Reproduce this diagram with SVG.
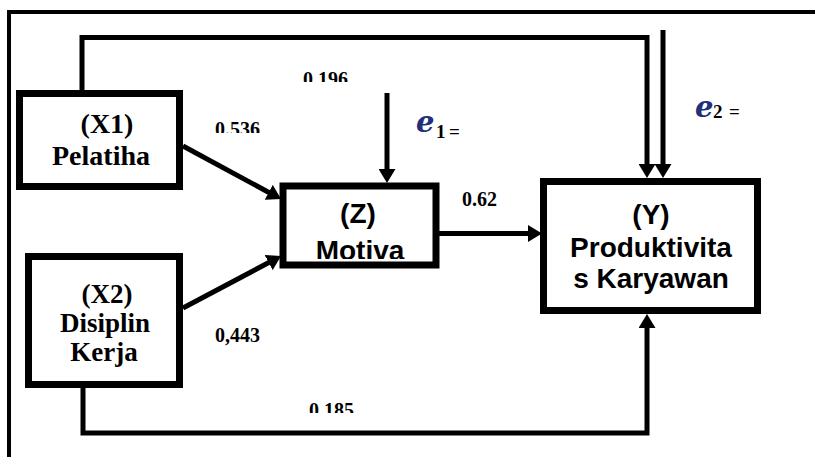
<svg xmlns="http://www.w3.org/2000/svg" width="815" height="457" viewBox="0 0 815 457">
<style>
.box{fill:#fff;stroke:#000;stroke-width:7}
.ln{fill:none;stroke:#000;stroke-width:5;stroke-linejoin:miter}
.tnr{font-family:"Liberation Serif","Times New Roman",serif;font-weight:bold;fill:#000}
.ar{font-family:"Liberation Sans",Arial,sans-serif;font-weight:bold;fill:#000}
.lbl{font-family:"Liberation Serif","Times New Roman",serif;font-weight:bold;font-size:20px;fill:#000}
.e{font-family:"DejaVu Serif",serif;font-style:italic;font-weight:bold;font-size:29px;fill:#22307a}
.sub{font-family:"Liberation Serif",serif;font-weight:bold;font-size:19px;fill:#000}
</style>
<defs>
<marker id="ah" markerUnits="userSpaceOnUse" markerWidth="14" markerHeight="17" refX="6" refY="8.5" orient="auto" viewBox="0 0 14 17">
<path d="M0,0 L14,8.5 L0,17 z" fill="#000"/>
</marker>
<clipPath id="c196"><rect x="290" y="60" width="80" height="22"/></clipPath>
<clipPath id="c536"><rect x="200" y="110" width="80" height="23"/></clipPath>
<clipPath id="c185"><rect x="300" y="395" width="80" height="18"/></clipPath>
<clipPath id="cz"><rect x="285" y="190" width="150" height="69"/></clipPath>
</defs>
<rect width="815" height="457" fill="#fff"/>
<path d="M9,457 V12 H815" fill="none" stroke="#000" stroke-width="4"/>
<g id="connectors">
<path class="ln" d="M82,93 V37.5 H647 V170" marker-end="url(#ah)"/>
<path class="ln" d="M663,30 V170" marker-end="url(#ah)"/>
<path class="ln" d="M387,93 V175" marker-end="url(#ah)"/>
<path class="ln" d="M183,146 L274,195.2" marker-end="url(#ah)"/>
<path class="ln" d="M183,308 L274,259.8" marker-end="url(#ah)"/>
<path class="ln" d="M438,233.5 H534" marker-end="url(#ah)"/>
<path class="ln" d="M83,385 V433 H647 V322" marker-end="url(#ah)"/>
</g>
<g id="X1">
<rect class="box" x="19.5" y="93.5" width="160" height="93"/>
<text class="tnr" font-size="28" x="107" y="133" text-anchor="middle">(X1)</text>
<text class="tnr" font-size="28" x="101" y="165" text-anchor="middle">Pelatiha</text>
</g>
<g id="X2">
<rect class="box" x="28.5" y="256.5" width="151" height="128"/>
<text class="tnr" font-size="27" x="107" y="303" text-anchor="middle">(X2)</text>
<text class="tnr" font-size="27" x="105" y="332" text-anchor="middle">Disiplin</text>
<text class="tnr" font-size="27" x="104" y="361" text-anchor="middle">Kerja</text>
</g>
<g id="Z">
<rect class="box" x="283" y="186" width="153" height="79"/>
<text class="ar" font-size="28" x="358" y="223" text-anchor="middle">(Z)</text>
<text class="ar" font-size="28" x="360" y="260" text-anchor="middle" clip-path="url(#cz)">Motiva</text>
</g>
<g id="Y">
<rect class="box" x="543.5" y="181.5" width="214" height="129"/>
<text class="ar" font-size="28" x="651" y="224" text-anchor="middle">(Y)</text>
<text class="ar" font-size="28" x="651" y="257" text-anchor="middle">Produktivita</text>
<text class="ar" font-size="28" x="651" y="288" text-anchor="middle">s Karyawan</text>
</g>
<g id="labels">
<text class="lbl" x="303" y="86" clip-path="url(#c196)">0.196</text>
<text class="lbl" x="215" y="136" clip-path="url(#c536)">0.536</text>
<text class="lbl" x="215" y="342">0,443</text>
<text class="lbl" x="309" y="417" clip-path="url(#c185)">0.185</text>
<text class="lbl" x="462" y="206">0.62</text>
</g>
<g id="e1">
<text class="e" x="416" y="132">e</text>
<text class="sub" x="436" y="138">1 <tspan x="449">=</tspan></text>
</g>
<g id="e2">
<text class="e" x="695" y="117">e</text>
<text class="sub" x="713" y="118">2 <tspan x="729">=</tspan></text>
</g>
</svg>
